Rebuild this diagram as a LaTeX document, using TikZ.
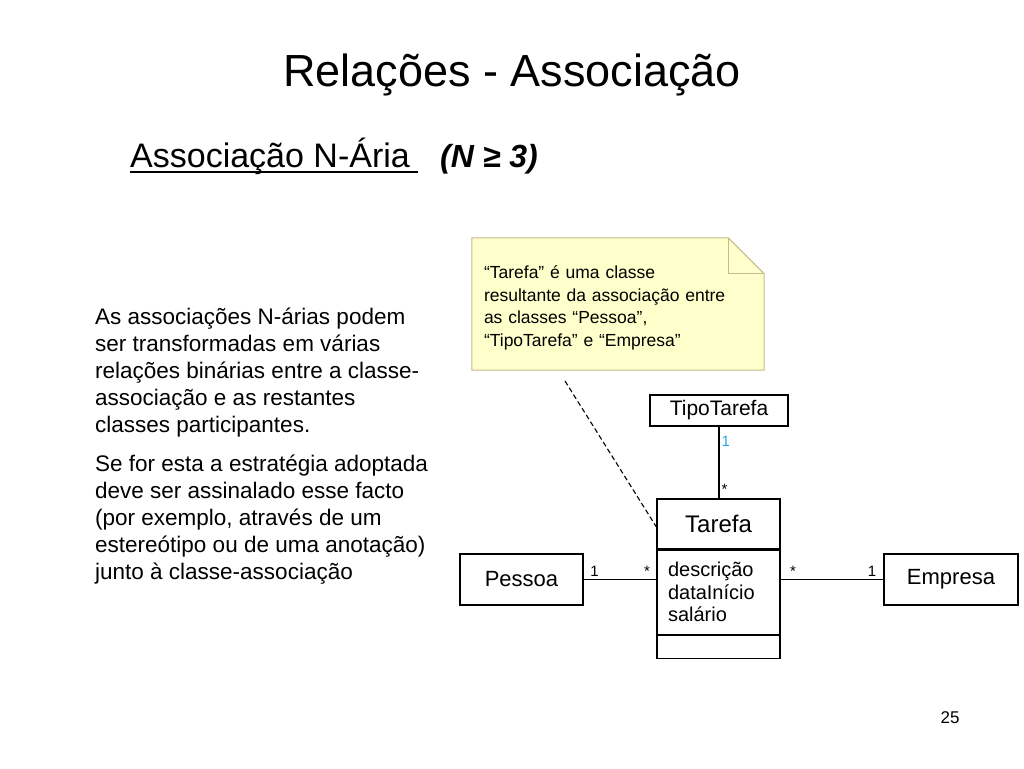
\documentclass[tikz,border=0pt]{standalone}
\usepackage{fontspec}
\setmainfont{Liberation Sans}
\usetikzlibrary{positioning}
\definecolor{notefill}{RGB}{255,255,204}
\definecolor{noteline}{RGB}{196,186,140}
\definecolor{multblue}{RGB}{40,170,230}
\newcommand{\fs}[2]{\fontsize{#1}{#2}\selectfont}
\begin{document}
\begin{tikzpicture}[x=1pt,y=-1pt,
	klasse/.style={draw,line width=1.2pt,inner sep=0pt,fill=white,font=\fs{22}{25}},
	mult/.style={font=\fs{15}{17},inner sep=2pt},
	assoc/.style={line width=1.2pt}]
	\fill[white] (0,0) rectangle (1024,768);
	\useasboundingbox (0,0) rectangle (1024,768);

	\node[font=\fs{45}{50}] (title) at (512,75) {Relações - Associação};
	\node[anchor=base west,inner sep=0pt,font=\fs{34}{38}] (sub) at (130,167) {Associação N-Ária};
	\node[anchor=base west,inner sep=0pt,font=\fs{32}{36}\bfseries\itshape] (subn) at (440,167) {(N ≥ 3)};
	\draw[line width=1.3pt] ([yshift=-5pt]sub.base west) -- ++(288,0);

	\node[anchor=north west,inner sep=0pt,align=left,font=\fs{22.5}{27}] (texto) at (95,308) {%
		As associações N-árias podem\\
		ser transformadas em várias\\
		relações binárias entre a classe-\\
		associação e as restantes\\
		classes participantes.\\[12pt]
		Se for esta a estratégia adoptada\\
		deve ser assinalado esse facto\\
		(por exemplo, através de um\\
		estereótipo ou de uma anotação)\\
		junto à classe-associação};

	\node[minimum width=292pt,minimum height=132pt,inner sep=0pt] (note) at (618,304) {};
	\draw[line width=1pt,draw=noteline,fill=notefill] (note.south west) -- (note.north west) -- ([xshift=-36pt]note.north east)
		-- ([yshift=-36pt]note.north east) -- (note.south east) -- cycle;
	\draw[line width=1pt,draw=noteline] ([xshift=-36pt]note.north east) -- ([xshift=-36pt,yshift=-36pt]note.north east)
		-- ([yshift=-36pt]note.north east);
	\node[text width=268pt,inner xsep=12pt,align=left,font=\fs{17.5}{22.7}] (notetext) at ([yshift=-4pt]note.center)
		{“Tarefa” é uma classe\\resultante da associação entre\\as classes “Pessoa”,\\“TipoTarefa” e “Empresa”};

	\node[klasse,minimum width=138pt,minimum height=31pt,font=\fs{21}{24}] (tipo) at (719,410.5) {TipoTarefa};
	\node[klasse,minimum width=123pt,minimum height=50pt,font=\fs{24}{27}] (tarefa) at (718.5,524) {Tarefa};
	\node[klasse,minimum width=123pt,minimum height=84pt,text width=101pt,inner xsep=11pt,align=left,anchor=north,
		font=\fs{20}{22.5}] (attr) at (tarefa.south) {descrição\\dataInício\\salário};
	\node[klasse,minimum width=123pt,minimum height=23pt,anchor=north] (ops) at (attr.south) {};
	\node[klasse,minimum width=123pt,minimum height=51pt] (pessoa) at (521.5,579.5) {Pessoa};
	\node[klasse,minimum width=134pt,minimum height=51pt] (empresa) at (951,579.5) {Empresa};

	\draw[assoc] (tipo.south) -- node[mult,pos=0.2,right,text=multblue]{1} node[mult,pos=0.88,right]{*} (tipo.south |- tarefa.north);
	\draw[assoc] (pessoa.east) -- node[mult,pos=0.15,above]{1} node[mult,pos=0.87,above]{*} (pessoa.east -| attr.west);
	\draw[assoc] (empresa.west -| attr.east) -- node[mult,pos=0.12,above]{*} node[mult,pos=0.89,above]{1} (empresa.west);

	\coordinate (notetail) at (565,381);
	\draw[line width=1.1pt,dash pattern=on 5pt off 3pt] (notetail) -- ([yshift=-3pt]tarefa.west);

	\node[font=\fs{17}{20}] (page) at (950,718) {25};
\end{tikzpicture}
\end{document}
